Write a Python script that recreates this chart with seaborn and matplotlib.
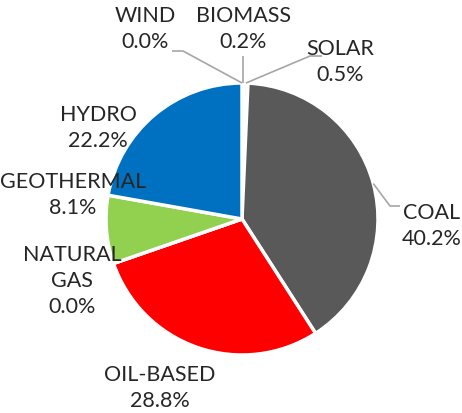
import matplotlib
matplotlib.use('Agg')
import matplotlib.pyplot as plt
import seaborn as sns
import numpy as np

sources = ['WIND', 'BIOMASS', 'SOLAR', 'COAL', 'OIL-BASED', 'NATURAL\nGAS', 'GEOTHERMAL', 'HYDRO']
shares = [0.0, 0.2, 0.5, 40.2, 28.8, 0.0, 8.1, 22.2]
colors = ['#A5A5A5', '#92D050', '#F7F7F7', '#595959', '#FF0000', '#FFC000', '#92D050', '#0070C0']

W, H = 462, 414
cx, cy, r = 242, 220, 136

sns.set_theme(style="white")
plt.rcParams['font.family'] = ['Lato', 'DejaVu Sans']

fig = plt.figure(figsize=(W / 100, H / 100), dpi=100)
ax = fig.add_axes([0, 0, 1, 1])

ax.pie(shares, colors=colors, startangle=90, counterclock=False,
       center=(cx, H - cy), radius=r,
       wedgeprops=dict(edgecolor='white', linewidth=2.5))
ax.set_xlim(0, W)
ax.set_ylim(0, H)
ax.set_aspect('equal')
ax.axis('off')


def edge_point(i):
    # point on the rim at the middle of slice i (clockwise from top)
    frac = (sum(shares[:i]) + shares[i] / 2) / 100
    a = np.radians(90 - 360 * frac)
    return cx + r * np.cos(a), H - (cy - r * np.sin(a))


txt = dict(color='#262626', fontsize=15.5, ha='center', va='center', linespacing=1.4)

# label text positions (pixel coords, y from top)
label_pos = {
    'WIND': (145, 29),
    'BIOMASS': (243, 29),
    'SOLAR': (340, 62),
    'COAL': (432, 226),
    'OIL-BASED': (160, 388),
    'NATURAL\nGAS': (72, 281),
    'GEOTHERMAL': (73, 195),
    'HYDRO': (98, 128),
}
for name, val in zip(sources, shares):
    x, y = label_pos[name]
    ax.text(x, H - y, f'{name}\n{val:.1f}%', **txt)

# leader lines
line_kw = dict(color='#A6A6A6', lw=1.2, solid_capstyle='butt')
ex, ey = edge_point(0)
ax.plot([172, 183, ex], [H - 52, H - 52, ey], **line_kw)
ex, ey = edge_point(1)
ax.plot([ex, ex], [H - 57, ey], **line_kw)
ex, ey = edge_point(2)
ax.plot([ex, 310, 322], [ey, H - 57, H - 57], **line_kw)
ex, ey = edge_point(3)
ax.plot([ex, 390, 400], [ey, H - 207, H - 207], **line_kw)

fig.savefig('out.png', dpi=100, facecolor='white')
